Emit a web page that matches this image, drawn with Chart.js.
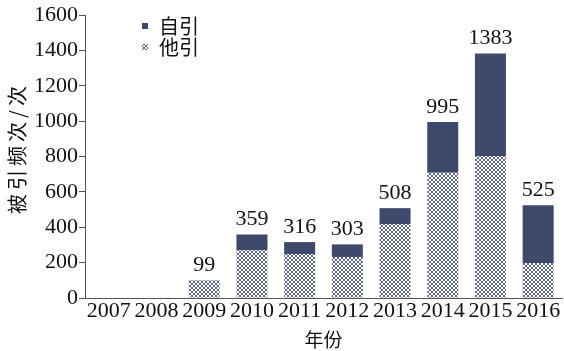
<!DOCTYPE html>
<html lang="zh">
<head>
<meta charset="UTF-8">
<title>被引频次</title>
<script src="https://cdn.jsdelivr.net/npm/chart.js"></script>
<style>
  body { margin: 0; background: #fff; }
  #wrap { width: 564px; height: 351px; }
</style>
</head>
<body>
<div id="wrap"><canvas id="chart" width="564" height="351"></canvas></div>
<script>
const years = ['2007', '2008', '2009', '2010', '2011', '2012', '2013', '2014', '2015', '2016'];
const otherCites = [0, 0, 97, 270, 249, 232, 418, 708, 803, 198];   // 他引
const selfCites = [0, 0, 2, 89, 67, 71, 90, 287, 580, 327];         // 自引
const totals = [0, 0, 99, 359, 316, 303, 508, 995, 1383, 525];
const yTicks = [0, 200, 400, 600, 800, 1000, 1200, 1400, 1600];
const yTitle = '被引频次/次';

const DARK = '#3e4a6b';
const serif = '"Liberation Serif", "Times New Roman", serif';
const cjk = '"Noto Sans CJK SC", sans-serif';

// crosshatch fill for 他引
function makePattern() {
    const c = document.createElement('canvas');
    c.width = 4; c.height = 4;
    const g = c.getContext('2d');
    g.fillStyle = '#ffffff';
    g.fillRect(0, 0, 4, 4);
    g.fillStyle = '#5f6888';
    [[0, 0], [1, 1], [2, 2], [3, 3], [3, 0], [2, 1], [1, 2], [0, 3]].forEach(p => g.fillRect(p[0], p[1], 1, 1));
    return g.createPattern(c, 'repeat');
}
const hatch = makePattern();

// totals above each stack
const totalLabels = {
    id: 'totalLabels',
    afterDatasetsDraw(chart) {
        const ctx = chart.ctx;
        const meta = chart.getDatasetMeta(1);
        ctx.save();
        ctx.font = '22px ' + serif;
        ctx.fillStyle = '#111';
        ctx.textAlign = 'center';
        ctx.textBaseline = 'bottom';
        meta.data.forEach((bar, i) => {
            if (!totals[i]) return;
            ctx.fillText(String(totals[i]), bar.x, chart.scales.y.getPixelForValue(totals[i]) - 4);
        });
        ctx.restore();
    }
};

// legend in the plot corner + spaced y title
const extras = {
    id: 'extras',
    afterDraw(chart) {
        const ctx = chart.ctx;
        ctx.save();
        ctx.font = '20px ' + cjk;
        ctx.textBaseline = 'middle';
        const items = [
            { label: chart.data.datasets[1].label, fill: DARK, y: 26 },
            { label: chart.data.datasets[0].label, fill: hatch, y: 47 }
        ];
        items.forEach(it => {
            ctx.fillStyle = it.fill;
            ctx.fillRect(142, it.y - 3, 6, 6);
            ctx.fillStyle = '#111';
            ctx.fillText(it.label, 159, it.y);
        });

        ctx.translate(17, 148);
        ctx.rotate(-Math.PI / 2);
        ctx.font = '20px ' + cjk;
        ctx.letterSpacing = '4px';
        ctx.textAlign = 'center';
        ctx.fillStyle = '#111';
        ctx.fillText(yTitle, 0, 0);
        ctx.restore();
    }
};

new Chart(document.getElementById('chart'), {
    type: 'bar',
    data: {
        labels: years,
        datasets: [
            { label: '他引', data: otherCites, backgroundColor: hatch, borderWidth: 0 },
            { label: '自引', data: selfCites, backgroundColor: DARK, borderWidth: 0 }
        ]
    },
    options: {
        responsive: false,
        animation: false,
        layout: { padding: { top: 15, right: 2, left: 0, bottom: 0 } },
        datasets: { bar: { categoryPercentage: 1, barPercentage: 0.65 } },
        plugins: { legend: { display: false }, tooltip: { enabled: false } },
        scales: {
            x: {
                stacked: true,
                grid: { display: false, drawTicks: false },
                border: { display: true, color: '#555', width: 1 },
                ticks: { color: '#111', font: { family: serif, size: 22 }, padding: 0, maxRotation: 0, autoSkip: false },
                title: { display: true, text: '年份', color: '#111', font: { family: cjk, size: 19 }, padding: { top: 0, bottom: 0 } },
                afterFit(s) { s.height = 53; }
            },
            y: {
                stacked: true,
                min: 0,
                max: 1600,
                afterBuildTicks(s) { s.ticks = yTicks.map(v => ({ value: v })); },
                grid: { display: true, drawOnChartArea: false, drawTicks: true, tickLength: 6, color: '#555' },
                border: { display: true, color: '#555', width: 1 },
                ticks: { color: '#111', font: { family: serif, size: 22 }, padding: 1, callback: v => String(v) },
                title: { display: false },
                afterFit(s) { s.width = 85; }
            }
        }
    },
    plugins: [totalLabels, extras]
});
</script>
</body>
</html>
